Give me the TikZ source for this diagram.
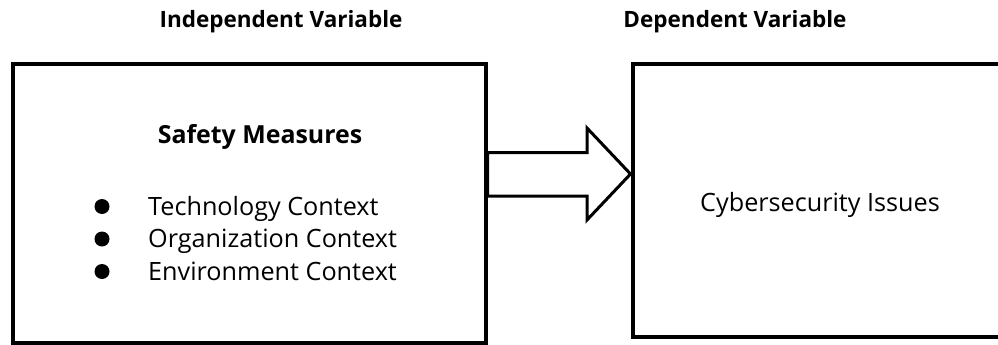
\documentclass[tikz,border=0pt]{standalone}
\usepackage{fontspec}
\setmainfont{Open Sans}
\usetikzlibrary{calc}
\usetikzlibrary{positioning}
\tikzset{
  varbox/.style={draw, line width=4pt, inner sep=0pt},
  vartitle/.style={font=\fontsize{22.5}{27}\selectfont\bfseries, anchor=base},
  heading/.style={font=\fontsize{24.9}{30}\selectfont\bfseries, anchor=base},
  item/.style={font=\fontsize{25.2}{30}\selectfont, anchor=base west, inner sep=0pt},
  dot/.style={circle, fill, inner sep=0pt, minimum size=15pt},
  hollow/.style={draw, line width=3pt, line join=miter, fill=white}
}

\begin{document}
\begin{tikzpicture}[x=1pt, y=-1pt]
  \useasboundingbox (0,0) rectangle (998,345);
  \clip (0,0) rectangle (998,345);

  \node [vartitle] (ivtitle) at (281,28) {Independent Variable};
  \node [vartitle] (dvtitle) at (735,28) {Dependent Variable};

  \node [varbox, minimum width=473pt, minimum height=278.5pt] (ivbox) at (249,203.25) {};
  \node [varbox, minimum width=500pt, minimum height=273pt] (dvbox) at (882.5,200.5) {};

  \node [heading] (measures) at (260,143) {Safety Measures};
  \foreach \t [count=\i] in {Technology Context, Organization Context, Environment Context}
  {
    \node [dot] (dot\i) at (102, 174+32.5*\i) {};
    \node [item] (ctx\i) at (148, 182.5+32.5*\i) {\t};
  }

  \node [item, anchor=base] (issues) at (820,211) {Cybersecurity Issues};

  % block arrow between the two boxes
  \coordinate (tip) at (dvbox.west |- 0,174);
  \draw [hollow] (ivbox.east |- 0,152.5) -- (587,152.5) -- (587,128) -- (tip)
    -- (587,220) -- (587,196) -- (ivbox.east |- 0,196) -- cycle;
\end{tikzpicture}
\end{document}
